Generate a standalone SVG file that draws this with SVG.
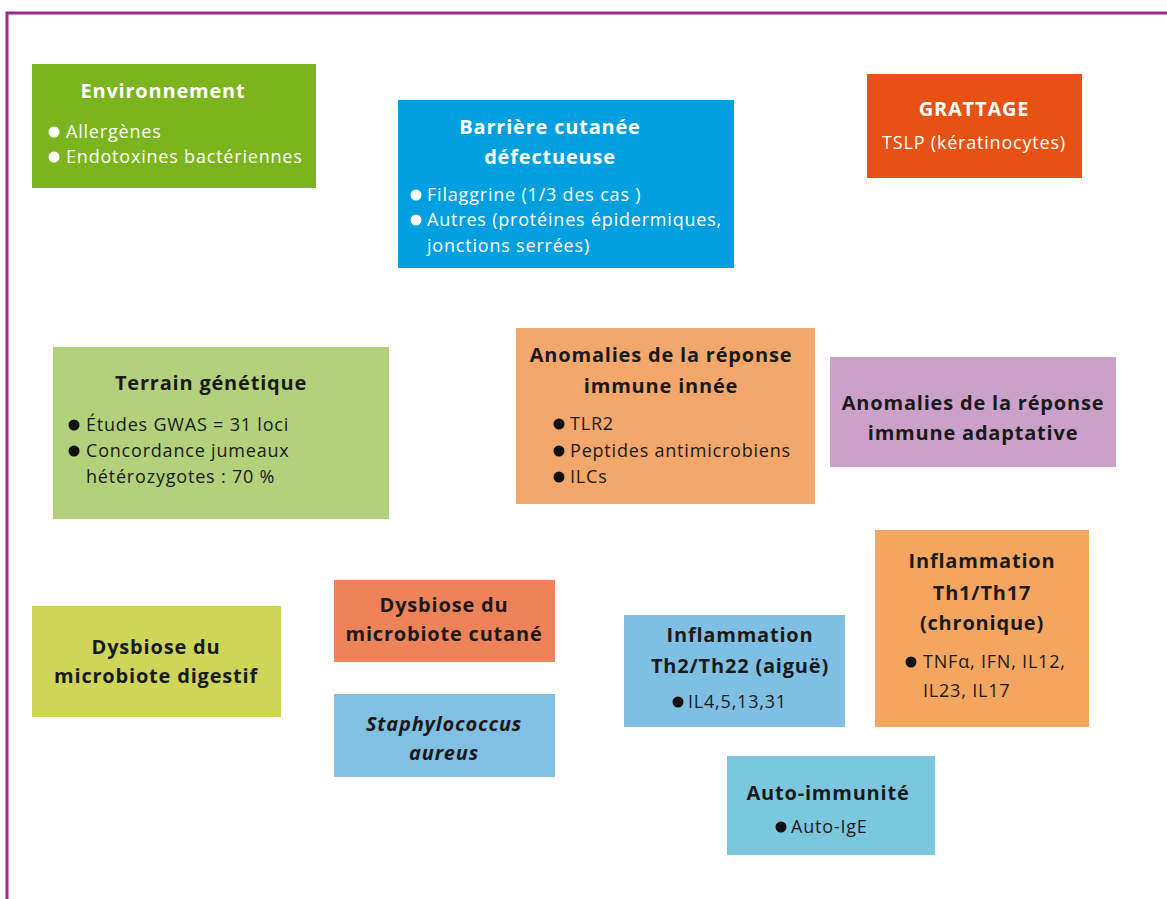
<svg xmlns="http://www.w3.org/2000/svg" width="1167" height="899" viewBox="0 0 1167 899">
<style>
.t{font-family:"Open Sans","Noto Sans","Liberation Sans",sans-serif;font-weight:bold;font-size:20px;letter-spacing:0.8px;fill:#1a1a1a;text-anchor:middle}
.b{font-family:"Open Sans","Noto Sans","Liberation Sans",sans-serif;font-size:18px;letter-spacing:0.8px;fill:#1a1a1a}
.w{fill:#ffffff}
.i{font-style:italic}
</style>
<rect width="1167" height="899" fill="#ffffff"/>
<path d="M7 899 V13 H1167" fill="none" stroke="#9b2a8e" stroke-width="3"/>
<g id="connectors"></g>
<g id="environnement">
<rect x="32" y="64" width="284" height="124" fill="#7ab51d"/>
<text class="t w" x="163" y="98">Environnement</text>
<circle cx="54" cy="132" r="5.5" fill="#fff"/>
<text class="b w" x="66" y="138">Allergènes</text>
<circle cx="54" cy="157" r="5.5" fill="#fff"/>
<text class="b w" x="66" y="163">Endotoxines bactériennes</text>
</g>
<g id="barriere">
<rect x="398" y="100" width="336" height="168" fill="#009fe0"/>
<text class="t w" x="550" y="134">Barrière cutanée</text>
<text class="t w" x="550" y="164">défectueuse</text>
<circle cx="416" cy="195" r="5.5" fill="#fff"/>
<text class="b w" x="427" y="201">Filaggrine (1/3 des cas )</text>
<circle cx="416" cy="220" r="5.5" fill="#fff"/>
<text class="b w" x="427" y="226">Autres (protéines épidermiques,</text>
<text class="b w" x="427" y="252">jonctions serrées)</text>
</g>
<g id="grattage">
<rect x="867" y="74" width="215" height="104" fill="#e75113"/>
<text class="t w" x="974" y="116">GRATTAGE</text>
<text class="b w" x="974" y="149" text-anchor="middle">TSLP (kératinocytes)</text>
</g>
<g id="terrain">
<rect x="53" y="347" width="336" height="172" fill="#b3d17b"/>
<text class="t" x="211" y="390">Terrain génétique</text>
<circle cx="74" cy="425" r="5.5" fill="#111"/>
<text class="b" x="86" y="431">Études GWAS = 31 loci</text>
<circle cx="74" cy="451" r="5.5" fill="#111"/>
<text class="b" x="86" y="457">Concordance jumeaux</text>
<text class="b" x="86" y="483">hétérozygotes : 70 %</text>
</g>
<g id="innee">
<rect x="516" y="328" width="299" height="176" fill="#f4a76a"/>
<text class="t" x="661" y="362">Anomalies de la réponse</text>
<text class="t" x="661" y="393">immune innée</text>
<circle cx="559" cy="424" r="5.5" fill="#111"/>
<text class="b" x="570" y="430">TLR2</text>
<circle cx="559" cy="451" r="5.5" fill="#111"/>
<text class="b" x="570" y="457">Peptides antimicrobiens</text>
<circle cx="559" cy="477" r="5.5" fill="#111"/>
<text class="b" x="570" y="483">ILCs</text>
</g>
<g id="adaptative">
<rect x="830" y="357" width="286" height="110" fill="#cba0c9"/>
<text class="t" x="973" y="410">Anomalies de la réponse</text>
<text class="t" x="973" y="440">immune adaptative</text>
</g>
<g id="dysbiose-digestif">
<rect x="32" y="606" width="249" height="111" fill="#cdd659"/>
<text class="t" x="156" y="654">Dysbiose du</text>
<text class="t" x="156" y="683">microbiote digestif</text>
</g>
<g id="dysbiose-cutane">
<rect x="334" y="580" width="221" height="82" fill="#ee835a"/>
<text class="t" x="444" y="612">Dysbiose du</text>
<text class="t" x="444" y="641">microbiote cutané</text>
</g>
<g id="staphylococcus">
<rect x="334" y="694" width="221" height="83" fill="#81bfe3"/>
<text class="t i" x="444" y="731">Staphylococcus</text>
<text class="t i" x="444" y="760">aureus</text>
</g>
<g id="th2">
<rect x="624" y="615" width="221" height="112" fill="#7fbfe4"/>
<text class="t" x="740" y="642">Inflammation</text>
<text class="t" x="740" y="673">Th2/Th22 (aiguë)</text>
<circle cx="678" cy="702" r="5.5" fill="#111"/>
<text class="b" x="688" y="708">IL4,5,13,31</text>
</g>
<g id="th1">
<rect x="875" y="530" width="214" height="197" fill="#f4a660"/>
<text class="t" x="982" y="568">Inflammation</text>
<text class="t" x="982" y="600">Th1/Th17</text>
<text class="t" x="982" y="630">(chronique)</text>
<circle cx="911" cy="662" r="5.5" fill="#111"/>
<text class="b" x="923" y="668">TNFα, IFN, IL12,</text>
<text class="b" x="923" y="697">IL23, IL17</text>
</g>
<g id="auto-immunite">
<rect x="727" y="756" width="208" height="99" fill="#7cc7e0"/>
<text class="t" x="828" y="800">Auto-immunité</text>
<circle cx="781" cy="827" r="5.5" fill="#111"/>
<text class="b" x="791" y="833">Auto-IgE</text>
</g>
</svg>
